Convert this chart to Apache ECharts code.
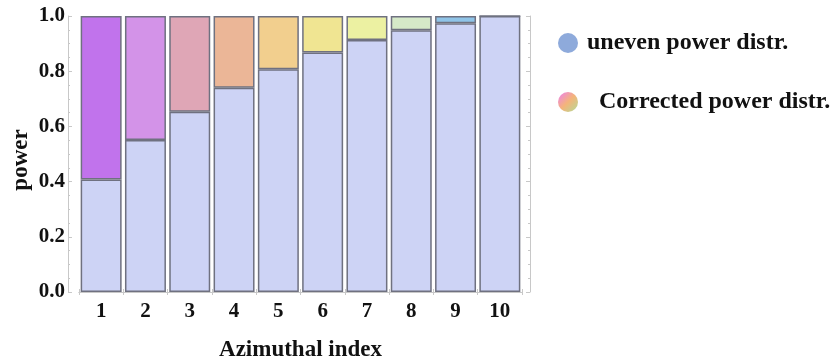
<!DOCTYPE html>
<html>
<head>
<meta charset="utf-8">
<script src="https://cdn.jsdelivr.net/npm/echarts@6/dist/echarts.min.js"></script>
<style>
html,body{margin:0;padding:0;background:#fff;}
#chart{width:837px;height:362px;}
</style>
</head>
<body>
<div id="chart"></div>
<script>
// ---- data ----
const categories = ['1','2','3','4','5','6','7','8','9','10'];
const unevenPower = [0.408, 0.551, 0.653, 0.740, 0.807, 0.868, 0.913, 0.948, 0.974, 1.0];
const correctedExtra = [0.592, 0.449, 0.347, 0.260, 0.193, 0.132, 0.087, 0.052, 0.026, 0.0];
const correctedColors = ['#c173ec','#d393e8','#dfa6b6','#ebb697','#f2cf8e','#f0e592','#ecf1a2','#d5e9c8','#8fc4e8','#cdd3f5'];
const yTicks = [0, 0.2, 0.4, 0.6, 0.8, 1.0];
const seriesNames = ['uneven power distr.', 'Corrected power distr.'];
const yAxisTitle = 'power';
const xAxisTitle = 'Azimuthal index';

const FONT = 'Liberation Serif';
const frameColor = '#c8c8c8';
const barBorder = '#6f7180';

const chart = echarts.init(document.getElementById('chart'), null, {renderer:'canvas'});
const option = {
  backgroundColor: '#ffffff',
  animation: false,
  grid: { left: 79, right: 315, top: 16, bottom: 70, containLabel: false, outerBoundsMode: 'none' },
  graphic: [
    {
      type: 'text',
      x: 21, y: 160,
      rotation: Math.PI / 2,
      style: { text: yAxisTitle, fontFamily: FONT, fontWeight: 'bold', fontSize: 23, fill: '#111',
        align: 'center', verticalAlign: 'middle' }
    }
  ],
  legend: {
    orient: 'vertical',
    left: 553,
    top: 26,
    itemWidth: 20,
    itemHeight: 20,
    itemGap: 35,
    icon: 'circle',
    formatter: function(n){ return n === seriesNames[1] ? '  ' + n : n; },
    textStyle: { fontFamily: FONT, fontWeight: 'bold', fontSize: 24, color: '#111', padding: [0,0,0,4] },
    data: [
      { name: seriesNames[0], itemStyle: { color: '#8eaadb', borderWidth: 0 } },
      { name: seriesNames[1], itemStyle: { borderWidth: 0, color: new echarts.graphic.LinearGradient(0,0,1,1,[
        {offset:0, color:'#ee7ff2'},{offset:0.5, color:'#f4b47a'},{offset:1, color:'#b2dc98'}]) } }
    ]
  },
  xAxis: [
    {
      type: 'category',
      data: categories,
      position: 'bottom',
      offset: 5,
      axisLine: { show: true, lineStyle: { color: frameColor, width: 1 } },
      axisTick: { show: true, inside: true, length: 3, lineStyle: { color: frameColor } },
      axisLabel: { margin: 4, fontFamily: FONT, fontWeight: 'bold', fontSize: 21, color: '#111' },
      name: xAxisTitle,
      nameLocation: 'middle',
      nameGap: 42,
      nameTextStyle: { fontFamily: FONT, fontWeight: 'bold', fontSize: 23, color: '#111' }
    },
    {
      type: 'category',
      data: categories,
      position: 'top',
      offset: 3,
      axisLine: { show: true, lineStyle: { color: frameColor, width: 1 } },
      axisTick: { show: true, inside: true, length: 3, lineStyle: { color: frameColor } },
      axisLabel: { show: false }
    }
  ],
  yAxis: [
    {
      type: 'value',
      min: yTicks[0],
      max: yTicks[yTicks.length-1],
      interval: 0.2,
      position: 'left',
      offset: 11,
      axisLine: { show: true, lineStyle: { color: frameColor, width: 1 } },
      axisTick: { show: true, inside: true, length: 4, lineStyle: { color: frameColor } },
      minorTick: { show: true, splitNumber: 4, length: 2, lineStyle: { color: frameColor } },
      splitLine: { show: false },
      axisLabel: { margin: 3, fontFamily: FONT, fontWeight: 'bold', fontSize: 21, color: '#111',
        formatter: function(v){ return v.toFixed(1); } }
    },
    {
      type: 'value',
      min: yTicks[0],
      max: yTicks[yTicks.length-1],
      interval: 0.2,
      position: 'right',
      offset: 8,
      axisLine: { show: true, lineStyle: { color: frameColor, width: 1 } },
      axisTick: { show: true, inside: true, length: 4, lineStyle: { color: frameColor } },
      minorTick: { show: true, splitNumber: 4, length: 2, lineStyle: { color: frameColor } },
      splitLine: { show: false },
      axisLabel: { show: false }
    }
  ],
  series: [
    {
      name: seriesNames[0],
      type: 'bar',
      stack: 'p',
      barCategoryGap: '7.5%',
      data: unevenPower,
      itemStyle: { color: '#cdd3f5', borderColor: barBorder, borderWidth: 1.5 }
    },
    {
      name: seriesNames[1],
      type: 'bar',
      stack: 'p',
      barCategoryGap: '7.5%',
      data: correctedExtra.map(function(v, i){
        return { value: v, itemStyle: { color: correctedColors[i] } };
      }),
      itemStyle: { borderColor: barBorder, borderWidth: 1.5 }
    }
  ]
};
chart.setOption(option);
</script>
</body>
</html>
